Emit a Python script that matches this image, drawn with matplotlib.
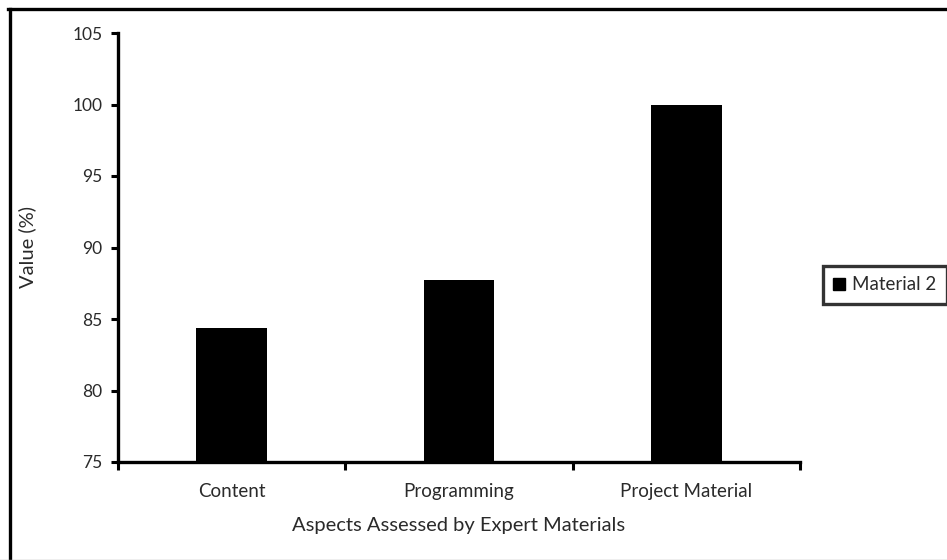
import matplotlib
matplotlib.use("Agg")
import matplotlib.pyplot as plt
from matplotlib.lines import Line2D

categories = ["Content", "Programming", "Project Material"]
material2 = [84.35, 87.75, 100.0]
y_ticks = [75, 80, 85, 90, 95, 100, 105]
series_name = "Material 2"

plt.rcParams["font.family"] = ["Lato", "DejaVu Sans"]

fig = plt.figure(figsize=(9.47, 5.6), dpi=100)
ax = fig.add_axes([118 / 947, 1 - 462 / 560, (800 - 118) / 947, (462 - 33) / 560])

pos = [i + 0.5 for i in range(len(categories))]
ax.bar(pos, material2, width=0.31, color="black", zorder=3)

ax.set_xlim(0, len(categories))
ax.set_ylim(y_ticks[0], y_ticks[-1])
ax.set_yticks(y_ticks)
ax.set_xticks(pos)
ax.set_xticklabels(categories, fontsize=13.5, color="#2a2a2a")
ax.set_xticks(range(len(categories) + 1), minor=True)
ax.tick_params(axis="x", which="major", length=0, pad=15)
ax.tick_params(axis="x", which="minor", length=6, width=2.2, direction="out")
ax.tick_params(axis="y", length=5, width=2.2, direction="out", labelsize=12.5,
               labelcolor="#2a2a2a", pad=6)

for side in ("top", "right"):
    ax.spines[side].set_visible(False)
for side in ("left", "bottom"):
    ax.spines[side].set_linewidth(2.4)

ax.set_ylabel("Value (%)", fontsize=14.5, color="#2a2a2a", labelpad=26)
ax.set_xlabel("Aspects Assessed by Expert Materials", fontsize=14.5,
              color="#2a2a2a", labelpad=12)

handle = Line2D([], [], marker="s", linestyle="none", color="black", markersize=8)
leg = fig.legend([handle], [series_name], loc="center left",
                 bbox_to_anchor=(823 / 947, 1 - 285 / 560), fontsize=13.5,
                 frameon=True, fancybox=False, handlelength=0.6,
                 handletextpad=0.4, borderpad=0.55, borderaxespad=0)
leg.get_frame().set_edgecolor("black")
leg.get_frame().set_linewidth(2.4)
for t in leg.get_texts():
    t.set_color("#2a2a2a")

# chart-area frame: left and top edges, faint line along the bottom
fig.add_artist(Line2D([9.5 / 947, 9.5 / 947], [0, 1 - 8.5 / 560],
                      transform=fig.transFigure, color="black", lw=2.4))
fig.add_artist(Line2D([8 / 947, 1], [1 - 8.5 / 560, 1 - 8.5 / 560],
                      transform=fig.transFigure, color="black", lw=2.4))
fig.add_artist(Line2D([0, 1], [0.5 / 560, 0.5 / 560],
                      transform=fig.transFigure, color="#aaaaaa", lw=1))

fig.savefig("out.png", dpi=100)
